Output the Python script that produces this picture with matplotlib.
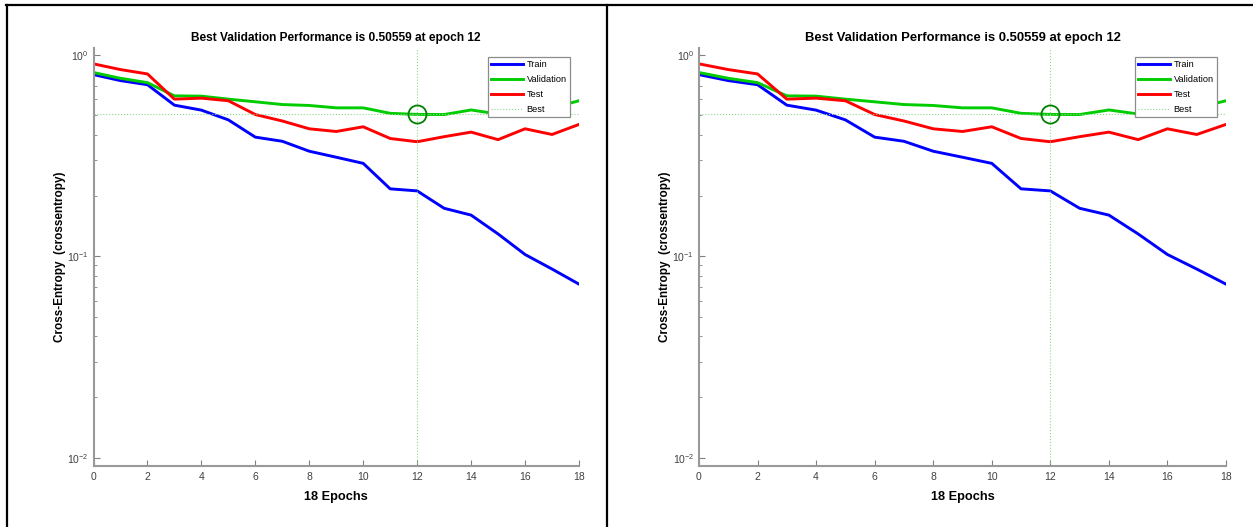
import numpy as np
import matplotlib
matplotlib.use("Agg")
import matplotlib.pyplot as plt
from matplotlib.lines import Line2D

plt.rcParams['font.family'] = ['Liberation Sans', 'DejaVu Sans']

# Werte (log-Skala)
epochs = list(range(19))
train = [0.797, 0.744, 0.710, 0.562, 0.531, 0.475, 0.390, 0.372, 0.332, 0.310,
         0.289, 0.216, 0.211, 0.173, 0.160, 0.129, 0.102, 0.0864, 0.0727]
validation = [0.816, 0.764, 0.727, 0.625, 0.623, 0.602, 0.584, 0.566, 0.560, 0.545,
              0.545, 0.512, 0.50559, 0.505, 0.532, 0.508, 0.52, 0.545, 0.591]
test = [0.901, 0.844, 0.803, 0.602, 0.609, 0.591, 0.505, 0.469, 0.429, 0.416,
        0.439, 0.384, 0.370, 0.392, 0.413, 0.379, 0.429, 0.402, 0.451]
best_epoch = 12
best_value = 0.50559
xticks = list(range(0, 19, 2))
title = f"Best Validation Performance is {best_value} at epoch {best_epoch}"

W, H = 1253, 527
fig = plt.figure(figsize=(W / 100, H / 100), dpi=100)


def perf_panel(rect, sx):
    ax = fig.add_axes(rect)
    ax.set_yscale('log')
    ax.plot(epochs, train, color=(0, 0, 1), lw=2.1, label='Train')
    ax.plot(epochs, validation, color=(0, 0.8, 0), lw=2.1, label='Validation')
    ax.plot(epochs, test, color=(1, 0, 0), lw=2.1, label='Test')
    ax.axhline(best_value, color=(0.55, 0.85, 0.55), lw=0.8, ls=':', label='Best')
    ax.axvline(best_epoch, color=(0.55, 0.85, 0.55), lw=0.8, ls=':')
    ax.plot([best_epoch], [best_value], 'o', mfc='none', mec=(0, 0.5, 0),
            ms=13, mew=1.3)

    ax.set_xlim(0, 18)
    ax.set_ylim(0.0091, 1.08)
    ax.set_xticks(xticks)

    for s in ['top', 'right']:
        ax.spines[s].set_visible(False)
    for s in ['left', 'bottom']:
        ax.spines[s].set_color('0.6')
        ax.spines[s].set_linewidth(1.5)
    ax.tick_params(which='both', direction='in', color='0.5', labelcolor='0.25',
                   labelsize=7.5)
    ax.tick_params(which='major', length=4)
    ax.tick_params(which='minor', length=2.5)
    ax.tick_params(axis='x', pad=4)

    ax.set_title(title, fontsize=8.6 * sx, fontweight='bold', pad=5)
    ax.set_xlabel('18 Epochs', fontsize=9.2, fontweight='bold', labelpad=7)
    ax.set_ylabel('Cross-Entropy  (crossentropy)', fontsize=8.5, fontweight='bold',
                  labelpad=1)

    leg = ax.legend(loc='upper right', fontsize=6.6, handlelength=3.5,
                    handletextpad=0.35, borderpad=0.35, labelspacing=0.65,
                    borderaxespad=1.0, fancybox=False, framealpha=1)
    leg.get_frame().set_edgecolor('0.55')
    leg.get_frame().set_linewidth(0.9)
    return ax


bottom = (H - 466) / H
height = (466 - 48) / H
perf_panel([93.5 / W, bottom, 485.5 / W, height], 1.0)
perf_panel([699 / W, bottom, 527 / W, height], 1.087)

# Rahmen der Tabelle
y_top = 1 - 5 / H
fig.add_artist(Line2D([6 / W, 1], [y_top, y_top], color='black', lw=1.6,
                      transform=fig.transFigure))
fig.add_artist(Line2D([7 / W, 7 / W], [0, y_top], color='black', lw=1.6,
                      transform=fig.transFigure))
fig.add_artist(Line2D([607 / W, 607 / W], [0, y_top], color='black', lw=1.6,
                      transform=fig.transFigure))

fig.savefig('out.png', dpi=100)
